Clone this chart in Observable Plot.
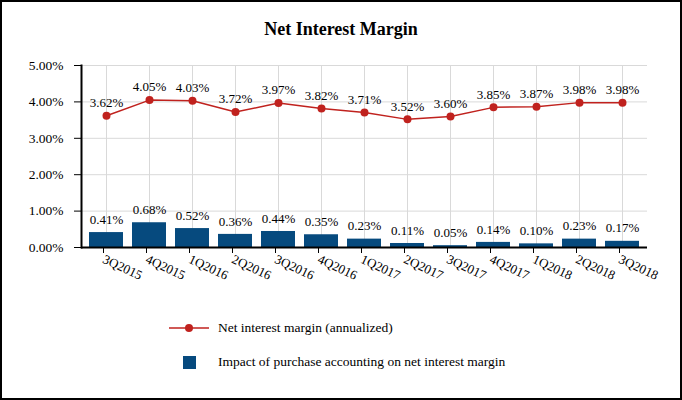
<!DOCTYPE html>
<html>
<head>
<meta charset="utf-8">
<script src="https://cdn.jsdelivr.net/npm/d3@7"></script>
<script src="https://cdn.jsdelivr.net/npm/@observablehq/plot@0.6"></script>
<style>
  html, body { margin: 0; padding: 0; background: #fff; }
  #wrap { position: relative; width: 682px; height: 400px; overflow: hidden; font-family: "Liberation Serif", "Times New Roman", serif; }
  #frame { position: absolute; left: 0; top: 0; width: 682px; height: 400px; box-sizing: border-box; border: 2px solid #000; pointer-events: none; }
  #title { position: absolute; left: 0; width: 682px; top: 19px; text-align: center; font-weight: bold; font-size: 18px; color: #000; }
  #chart { position: absolute; left: 0; top: 0; }
  #chart svg, #chart svg text { font-family: "Liberation Serif", "Times New Roman", serif !important; }
  .leg { position: absolute; left: 0; top: 0; width: 682px; height: 400px; pointer-events: none; }
  .legtext { position: absolute; left: 218px; font-size: 13.5px; color: #000; white-space: nowrap; line-height: 1; font-family: "Liberation Serif", "Times New Roman", serif; }
</style>
</head>
<body>
<div id="wrap">
  <div id="chart"></div>
  <div id="title">Net Interest Margin</div>
  <div class="leg">
    <svg width="682" height="400" style="position:absolute;left:0;top:0">
      <line x1="169" x2="209" y1="328" y2="328" stroke="#C0221E" stroke-width="1.5"></line>
      <circle cx="189" cy="328" r="4" fill="#C0221E"></circle>
      <rect x="183" y="356" width="13" height="13" fill="#064A7E"></rect>
    </svg>
    <div class="legtext" style="top:321px">Net interest margin (annualized)</div>
    <div class="legtext" style="top:355px">Impact of purchase accounting on net interest margin</div>
  </div>
  <div id="frame"></div>
</div>
<script>
const quarters = ["3Q2015","4Q2015","1Q2016","2Q2016","3Q2016","4Q2016","1Q2017","2Q2017","3Q2017","4Q2017","1Q2018","2Q2018","3Q2018"];
const netInterestMargin = [3.62,4.05,4.03,3.72,3.97,3.82,3.71,3.52,3.60,3.85,3.87,3.98,3.98];
const purchaseAccounting = [0.41,0.68,0.52,0.36,0.44,0.35,0.23,0.11,0.05,0.14,0.10,0.23,0.17];
const yTicks = [0,1,2,3,4,5];

const red = "#C0221E";
const blue = "#064A7E";
const fmt = d => d.toFixed(2) + "%";

const nim = quarters.map((q, i) => ({q, v: netInterestMargin[i]}));
const pa = quarters.map((q, i) => ({q, v: purchaseAccounting[i]}));

const chart = Plot.plot({
  width: 682,
  height: 300,
  marginTop: 65,
  marginBottom: 53,
  marginLeft: 81,
  marginRight: 35,
  style: { fontFamily: "'Liberation Serif', 'Times New Roman', serif", fontSize: "13px", color: "#000", background: "transparent" },
  x: { type: "band", domain: quarters, paddingInner: 0.22, paddingOuter: 0.11, label: null },
  y: { domain: [0, 5], label: null },
  marks: [
    Plot.gridY(yTicks.slice(1), { stroke: "#d9d9d9", strokeOpacity: 1 }),
    Plot.gridX(quarters, { stroke: "#d9d9d9", strokeOpacity: 1 }),
    Plot.barY(pa, { x: "q", y: "v", fill: blue }),
    Plot.text(pa, { x: "q", y: "v", text: d => fmt(d.v), dy: -13, fill: "#000" }),
    Plot.lineY(nim, { x: "q", y: "v", stroke: red, strokeWidth: 1.5 }),
    Plot.dot(nim, { x: "q", y: "v", r: 4, fill: red }),
    Plot.text(nim, { x: "q", y: "v", text: d => fmt(d.v), dy: -13, fill: "#000" }),
    Plot.axisY({ ticks: yTicks, tickFormat: fmt, tickSize: 7, tickPadding: 11, stroke: "#000", label: null, fontSize: 13.5 }),
    Plot.axisX({ tickSize: 6, tickRotate: 25, tickPadding: 5, dx: -3, label: null, fontSize: 13 }),
    Plot.frame({ anchor: "left", stroke: "#000", strokeWidth: 2 }),
    Plot.ruleY([0], { stroke: "#000", strokeWidth: 2 })
  ]
});
document.getElementById("chart").appendChild(chart);
</script>
</body>
</html>
